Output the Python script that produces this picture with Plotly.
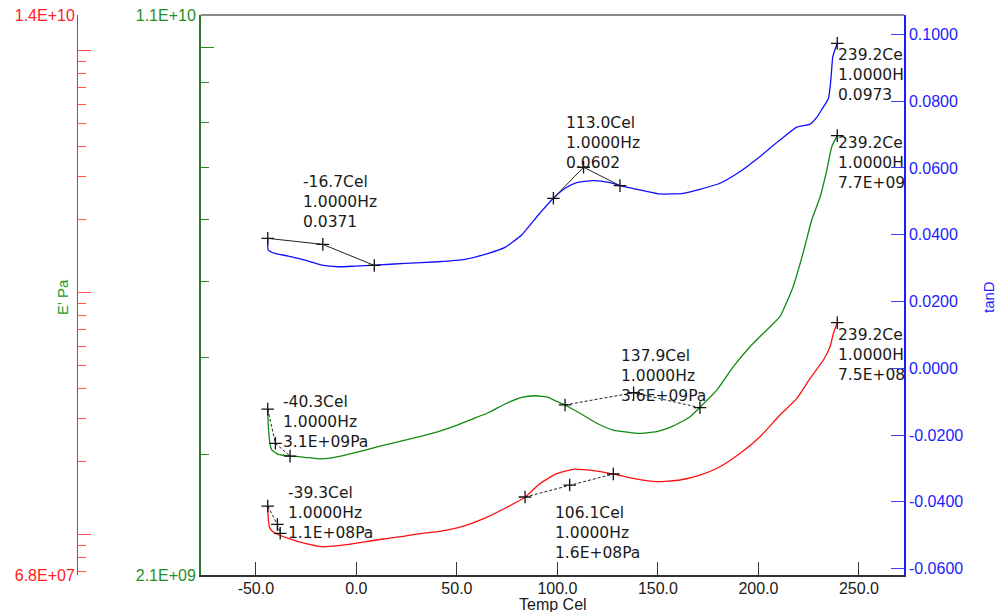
import math
import plotly.graph_objects as go

# ---------------- data ----------------
# E' (storage modulus, green, log axis)
green_T = [-44.1, -43.8, -43.0, -42.1, -38.9, -32.2, -25.6, -17.3, -9.0, -0.7,
           7.6, 15.9, 24.2, 32.5, 40.7, 49.1, 57.4, 65.6, 73.9, 82.2,
           88.9, 95.5, 98.0, 103.8, 111.2, 119.6, 127.8, 139.5, 149.4, 157.7,
           166.0, 170.9, 179.3, 187.5, 195.8, 204.1, 210.7, 214.1, 217.2, 222.2,
           226.5, 230.7, 234.0, 236.5, 239.2]
green_E = [3.43e9, 3.26e9, 3.10e9, 3.04e9, 3.00e9, 2.985e9, 2.974e9, 2.96e9, 2.98e9, 3.015e9,
           3.054e9, 3.093e9, 3.130e9, 3.167e9, 3.208e9, 3.263e9, 3.328e9, 3.393e9, 3.482e9, 3.551e9,
           3.568e9, 3.551e9, 3.524e9, 3.472e9, 3.388e9, 3.289e9, 3.224e9, 3.193e9, 3.208e9, 3.263e9,
           3.354e9, 3.449e9, 3.628e9, 3.888e9, 4.125e9, 4.334e9, 4.507e9, 4.708e9, 4.921e9, 5.442e9,
           6.0e9, 6.427e9, 6.955e9, 7.455e9, 7.7e9]

# E'' (loss modulus, red, log axis)
red_T = [-44.1, -43.8, -43.0, -40.5, -33.9, -25.6, -17.3, -9.0, -0.7, 7.6,
         15.9, 24.2, 32.5, 40.7, 49.1, 57.4, 65.6, 73.9, 83.9, 90.5,
         98.8, 107.9, 117.9, 127.8, 137.8, 149.4, 161.0, 170.9, 180.9, 190.9,
         200.8, 210.7, 219.1, 225.7, 232.3, 235.6, 237.3, 239.2]
red_E = [1.311e8, 1.147e8, 1.060e8, 1.011e8, 9.64e7, 9.19e7, 8.90e7, 8.99e7, 9.19e7, 9.42e7,
         9.64e7, 9.85e7, 1.011e8, 1.027e8, 1.060e8, 1.112e8, 1.184e8, 1.283e8, 1.424e8, 1.601e8,
         1.772e8, 1.859e8, 1.834e8, 1.777e8, 1.706e8, 1.652e8, 1.679e8, 1.760e8, 1.905e8, 2.164e8,
         2.535e8, 3.116e8, 3.651e8, 4.417e8, 5.257e8, 5.967e8, 6.78e8, 7.5e8]

# tan delta (blue, linear axis)
blue_T = [-44.1, -43.8, -40.5, -33.9, -25.6, -17.3, -9.0, -0.7, 9.3, 24.2,
          40.7, 54.0, 65.6, 73.9, 82.2, 90.5, 98.0, 103.8, 109.6, 117.9,
          126.2, 131.1, 142.7, 151.0, 162.6, 170.9, 180.9, 190.9, 200.8, 210.8,
          219.1, 225.7, 229.0, 231.5, 234.8, 236.0, 237.0, 239.2]
blue_tan = [0.0389, 0.0354, 0.0344, 0.0336, 0.0324, 0.0309, 0.0304, 0.0306, 0.0309, 0.0314,
            0.0319, 0.0326, 0.0344, 0.0362, 0.0399, 0.0459, 0.0509, 0.0539, 0.0556, 0.0562,
            0.0556, 0.0547, 0.0532, 0.0522, 0.0524, 0.0536, 0.0554, 0.0589, 0.0634, 0.0684,
            0.0722, 0.0731, 0.0751, 0.0775, 0.0808, 0.0863, 0.0933, 0.0973]

# analysis constructions (marker points)
g_onset_T = [-44.1, -40.3, -33.0];  g_onset_E = [3.43e9, 3.1e9, 2.985e9]
g_mid_T = [103.8, 137.9, 170.9];    g_mid_E = [3.472e9, 3.6e9, 3.444e9]
g_end_T = [239.2];                  g_end_E = [7.7e9]
r_onset_T = [-44.1, -39.3, -37.9];  r_onset_E = [1.31e8, 1.1e8, 1.011e8]
r_mid_T = [83.9, 106.1, 127.8];     r_mid_E = [1.428e8, 1.6e8, 1.777e8]
r_end_T = [239.2];                  r_end_E = [7.5e8]
b_onset_T = [-44.1, -16.7, 8.9];    b_onset_tan = [0.0389, 0.0371, 0.0308]
b_peak_T = [98.0, 113.0, 131.1];    b_peak_tan = [0.0509, 0.0602, 0.0547]
b_end_T = [239.2];                  b_end_tan = [0.0973]

# labels of the constructions
b_onset_lbl = ["-16.7Cel", "1.0000Hz", "0.0371"]
b_peak_lbl = ["113.0Cel", "1.0000Hz", "0.0602"]
b_end_lbl = ["239.2Cel", "1.0000Hz", "0.0973"]
g_onset_lbl = ["-40.3Cel", "1.0000Hz", "3.1E+09Pa"]
g_mid_lbl = ["137.9Cel", "1.0000Hz", "3.6E+09Pa"]
g_end_lbl = ["239.2Cel", "1.0000Hz", "7.7E+09Pa"]
r_onset_lbl = ["-39.3Cel", "1.0000Hz", "1.1E+08Pa"]
r_mid_lbl = ["106.1Cel", "1.0000Hz", "1.6E+08Pa"]
r_end_lbl = ["239.2Cel", "1.0000Hz", "7.5E+08Pa"]

# ticks
x_ticks = [-50, 0, 50, 100, 150, 200, 250]
x_range = [-77.3, 272.4]
tan_ticks = [-0.06, -0.04, -0.02, 0.0, 0.02, 0.04, 0.06, 0.08, 0.10]
tan_range = [-0.06189, 0.10578]
green_range = [2.1e9, 1.1e10]
green_major = [1e10]
green_minor = [3e9, 4e9, 5e9, 6e9, 7e9, 8e9, 9e9]
red_range = [6.8e7, 1.4e10]
red_major = [1e8, 1e9, 1e10]
red_minor = [7e7, 8e7, 9e7, 2e8, 3e8, 4e8, 5e8, 6e8, 7e8, 8e8, 9e8,
             2e9, 3e9, 4e9, 5e9, 6e9, 7e9, 8e9, 9e9]

# ---------------- styling ----------------
W, H = 998, 612
L_PX, R_PX, T_PX, B_PX = 201, 904, 15, 575
GREEN, RED, BLUE = "#1f8a1f", "#ff2020", "#1c1cff"
GREEN_AX = "#2a7a2a"
TXT = "#1a1a1a"
ANN_FONT = dict(family="DejaVu Sans", size=15.5, color=TXT)
AX_FONT = "Liberation Sans"
AX_SIZE = 16
lg = math.log10


def pxx(p):
    return p / W


def pxy(p):
    return (B_PX - p) / (B_PX - T_PX)


# pixel -> axis value helpers (for placing clipped text labels only)
def x_at(p):
    return x_range[0] + (p - L_PX) / (R_PX - L_PX) * (x_range[1] - x_range[0])


def lin_at(p, rng):
    return rng[1] - (p - T_PX) / (B_PX - T_PX) * (rng[1] - rng[0])


def log_at(p, rng):
    a, b = lg(rng[0]), lg(rng[1])
    return 10 ** (b - (p - T_PX) / (B_PX - T_PX) * (b - a))


fig = go.Figure()

line_shape = dict(shape="spline", smoothing=0.5)
fig.add_trace(go.Scatter(x=green_T, y=green_E, mode="lines", yaxis="y",
                         line=dict(color="#108a10", width=1.3, **line_shape)))
fig.add_trace(go.Scatter(x=red_T, y=red_E, mode="lines", yaxis="y2",
                         line=dict(color="#ff1010", width=1.3, **line_shape)))
fig.add_trace(go.Scatter(x=blue_T, y=blue_tan, mode="lines", yaxis="y3",
                         line=dict(color="#1010ff", width=1.3, **line_shape)))

mk = dict(symbol="cross-thin", size=9, line=dict(width=1.3, color="#111"))
for tx, ty, ax, dash in [(g_onset_T, g_onset_E, "y", "3px,2px"),
                         (g_mid_T, g_mid_E, "y", "3px,2px"),
                         (g_end_T, g_end_E, "y", "solid"),
                         (r_onset_T, r_onset_E, "y2", "3px,2px"),
                         (r_mid_T, r_mid_E, "y2", "3px,2px"),
                         (r_end_T, r_end_E, "y2", "solid"),
                         (b_onset_T, b_onset_tan, "y3", "solid"),
                         (b_peak_T, b_peak_tan, "y3", "solid"),
                         (b_end_T, b_end_tan, "y3", "solid")]:
    fig.add_trace(go.Scatter(x=tx, y=ty, mode="lines+markers", yaxis=ax,
                             line=dict(color="#222", width=1, dash=dash),
                             marker=mk, cliponaxis=False))

# end labels are clipped by the right axis -> scatter text with clipping
for lbl, lx, ly, ax in [(b_end_lbl, 838, 48, "y3"),
                        (g_end_lbl, 838, 136, "y"),
                        (r_end_lbl, 838, 328, "y2")]:
    if ax == "y3":
        yv = lin_at(ly, tan_range)
    elif ax == "y":
        yv = log_at(ly, green_range)
    else:
        yv = log_at(ly, red_range)
    fig.add_trace(go.Scatter(x=[x_at(lx)], y=[yv], mode="text", yaxis=ax,
                             text=["<br>".join(lbl)], textposition="bottom right",
                             textfont=ANN_FONT, cliponaxis=True))

annotations = []
for lbl, lx, ly in [(b_onset_lbl, 301.5, 201.7), (b_peak_lbl, 565, 143.3),
                    (g_onset_lbl, 281.7, 421.7), (g_mid_lbl, 620, 376),
                    (r_onset_lbl, 286.7, 513.3), (r_mid_lbl, 554, 533.3)]:
    annotations.append(dict(text="<br>".join(lbl), x=pxx(lx), y=pxy(ly),
                            xref="paper", yref="paper", xanchor="left", yanchor="middle",
                            align="left", showarrow=False, font=ANN_FONT, borderpad=0))

annotations += [
    dict(text="E' Pa", x=pxx(62), y=pxy(297), xref="paper", yref="paper", textangle=-90,
         xanchor="center", yanchor="middle",
         showarrow=False, font=dict(family=AX_FONT, size=15, color="#229922")),
    dict(text="tanD", x=pxx(988), y=pxy(297), xref="paper", yref="paper", textangle=-90,
         xanchor="center", yanchor="middle",
         showarrow=False, font=dict(family=AX_FONT, size=15, color=BLUE)),
    dict(text="Temp Cel", x=pxx(552.5), y=pxy(604), xref="paper", yref="paper",
         xanchor="center", yanchor="middle", borderpad=0,
         showarrow=False, font=dict(family=AX_FONT, size=16, color=TXT)),
]

fig.update_layout(
    width=W, height=H, margin=dict(l=0, r=0, t=T_PX, b=H - B_PX),
    paper_bgcolor="white", plot_bgcolor="white", showlegend=False,
    annotations=annotations,
    shapes=[dict(type="line", xref="paper", yref="paper", x0=pxx(L_PX), x1=pxx(R_PX),
                 y0=1, y1=1, line=dict(color="#8a8a8a", width=2))],
    xaxis=dict(domain=[pxx(L_PX), pxx(R_PX)], range=x_range,
               showgrid=False, zeroline=False, showline=True, linecolor="#333", linewidth=2,
               ticks="inside", ticklen=13, tickcolor="#333", tickwidth=1,
               ticklabelstandoff=-2,
               tickvals=x_ticks, ticktext=[f"{v:.1f}" for v in x_ticks],
               tickfont=dict(family=AX_FONT, size=AX_SIZE, color=TXT)),
    yaxis=dict(type="log", range=[lg(green_range[0]), lg(green_range[1])], side="left",
               anchor="x", showgrid=False, zeroline=False, showline=True,
               linecolor=GREEN_AX, linewidth=2, ticks="inside", ticklen=13,
               tickcolor=GREEN, tickwidth=1,
               tickvals=[green_range[0]] + green_major + [green_range[1]],
               ticktext=["2.1E+09"] + ["" for _ in green_major] + ["1.1E+10"],
               tickfont=dict(family=AX_FONT, size=AX_SIZE, color="#1f8f1f"),
               minor=dict(tickvals=green_minor, ticks="inside", ticklen=8,
                          tickcolor=GREEN, tickwidth=1, showgrid=False)),
    yaxis2=dict(type="log", range=[lg(red_range[0]), lg(red_range[1])], side="left",
                overlaying="y", anchor="free", position=pxx(77),
                showgrid=False, zeroline=False, showline=True,
                linecolor=RED, linewidth=1, ticks="inside", ticklen=13,
                tickcolor="#ff5050", tickwidth=1, ticklabelstandoff=-1,
                tickvals=[red_range[0]] + red_major + [red_range[1]],
                ticktext=["6.8E+07"] + ["" for _ in red_major] + ["1.4E+10"],
                tickfont=dict(family=AX_FONT, size=AX_SIZE, color=RED),
                minor=dict(tickvals=red_minor, ticks="inside", ticklen=8,
                           tickcolor="#ff5050", tickwidth=1, showgrid=False)),
    yaxis3=dict(range=tan_range, side="right", overlaying="y", anchor="x",
                showgrid=False, zeroline=False, showline=True,
                linecolor=BLUE, linewidth=1.5, ticks="inside", ticklen=13,
                tickcolor="#4040ff", tickwidth=1,
                tickvals=tan_ticks, ticktext=[f"{v:.4f}" for v in tan_ticks],
                tickfont=dict(family=AX_FONT, size=AX_SIZE, color=BLUE)),
)

fig.write_html("out.html")
